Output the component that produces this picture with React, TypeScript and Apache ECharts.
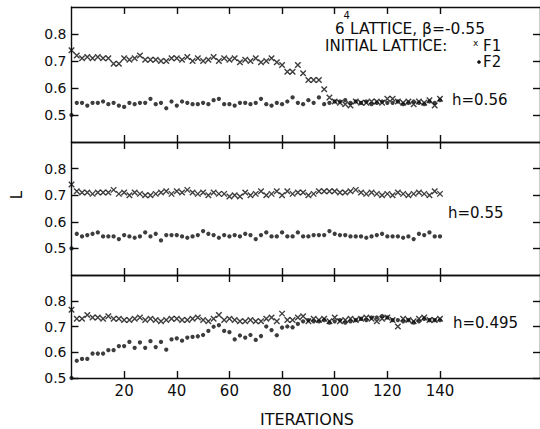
import React, { useEffect, useRef } from 'react';
import * as echarts from 'echarts';

const ITERATIONS = [
  0, 2, 4, 6, 8, 10, 12, 14, 16, 18, 20, 22, 24, 26, 28, 30, 32, 34, 36, 38,
  40, 42, 44, 46, 48, 50, 52, 54, 56, 58, 60, 62, 64, 66, 68, 70, 72, 74, 76, 78,
  80, 82, 84, 86, 88, 90, 92, 94, 96, 98, 100, 102, 104, 106, 108, 110, 112, 114, 116, 118,
  120, 122, 124, 126, 128, 130, 132, 134, 136, 138, 140,
];

// h = 0.56
const H056_F1 = [
  0.74, 0.72, 0.71, 0.715, 0.71, 0.715, 0.71, 0.71, 0.69, 0.69,
  0.71, 0.705, 0.71, 0.72, 0.705, 0.705, 0.705, 0.70, 0.70, 0.71,
  0.71, 0.705, 0.715, 0.70, 0.71, 0.70, 0.705, 0.715, 0.70, 0.71,
  0.705, 0.71, 0.695, 0.705, 0.70, 0.71, 0.695, 0.70, 0.71, 0.695,
  0.685, 0.66, 0.66, 0.685, 0.655, 0.63, 0.63, 0.63, 0.595, 0.565,
  0.55, 0.545, 0.54, 0.535, 0.55, 0.545, 0.545, 0.55, 0.55, 0.545,
  0.56, 0.56, 0.55, 0.545, 0.55, 0.54, 0.55, 0.545, 0.555, 0.535,
  0.56,
];
const H056_F2 = [
  0.50, 0.545, 0.545, 0.535, 0.545, 0.545, 0.55, 0.54, 0.545, 0.535,
  0.53, 0.545, 0.54, 0.545, 0.545, 0.56, 0.54, 0.545, 0.525, 0.55,
  0.535, 0.55, 0.545, 0.54, 0.54, 0.545, 0.54, 0.555, 0.56, 0.54,
  0.54, 0.535, 0.545, 0.545, 0.54, 0.545, 0.56, 0.54, 0.535, 0.545,
  0.54, 0.55, 0.565, 0.545, 0.54, 0.555, 0.545, 0.565, 0.54, 0.545,
  0.55, 0.55, 0.555, 0.545, 0.55, 0.545, 0.55, 0.54, 0.545, 0.55,
  0.545, 0.545, 0.55, 0.54, 0.545, 0.55, 0.545, 0.54, 0.55, 0.545,
  0.555,
];

// h = 0.55
const H055_F1 = [
  0.74, 0.715, 0.71, 0.71, 0.705, 0.71, 0.71, 0.71, 0.72, 0.705,
  0.71, 0.70, 0.71, 0.705, 0.70, 0.70, 0.705, 0.71, 0.715, 0.705,
  0.715, 0.71, 0.72, 0.71, 0.705, 0.71, 0.70, 0.71, 0.705, 0.705,
  0.695, 0.70, 0.695, 0.71, 0.70, 0.705, 0.715, 0.70, 0.705, 0.715,
  0.70, 0.715, 0.705, 0.71, 0.71, 0.70, 0.705, 0.715, 0.715, 0.715,
  0.715, 0.71, 0.71, 0.715, 0.72, 0.71, 0.705, 0.71, 0.705, 0.70,
  0.705, 0.70, 0.71, 0.705, 0.70, 0.705, 0.71, 0.705, 0.70, 0.715,
  0.705,
];
const H055_F2 = [
  0.50, 0.555, 0.545, 0.55, 0.555, 0.56, 0.545, 0.545, 0.545, 0.535,
  0.55, 0.545, 0.54, 0.545, 0.56, 0.545, 0.555, 0.53, 0.55, 0.55,
  0.55, 0.545, 0.54, 0.545, 0.55, 0.565, 0.555, 0.55, 0.54, 0.55,
  0.545, 0.55, 0.545, 0.555, 0.55, 0.535, 0.55, 0.56, 0.545, 0.545,
  0.56, 0.545, 0.545, 0.56, 0.545, 0.545, 0.55, 0.55, 0.55, 0.565,
  0.555, 0.55, 0.55, 0.545, 0.545, 0.545, 0.54, 0.545, 0.55, 0.555,
  0.545, 0.545, 0.545, 0.54, 0.545, 0.535, 0.555, 0.55, 0.56, 0.545,
  0.545,
];

// h = 0.495
const H0495_F1 = [
  0.765, 0.73, 0.73, 0.745, 0.735, 0.735, 0.73, 0.74, 0.73, 0.73,
  0.725, 0.725, 0.73, 0.735, 0.725, 0.73, 0.725, 0.72, 0.725, 0.73,
  0.73, 0.725, 0.725, 0.73, 0.735, 0.725, 0.72, 0.73, 0.745, 0.725,
  0.73, 0.725, 0.72, 0.72, 0.725, 0.72, 0.72, 0.73, 0.735, 0.72,
  0.75, 0.725, 0.725, 0.735, 0.74, 0.72, 0.73, 0.725, 0.73, 0.72,
  0.735, 0.72, 0.725, 0.73, 0.725, 0.73, 0.735, 0.73, 0.72, 0.73,
  0.735, 0.725, 0.70, 0.73, 0.725, 0.72, 0.73, 0.735, 0.725, 0.725,
  0.73,
];
const H0495_F2 = [
  0.50, 0.567, 0.574, 0.574, 0.595, 0.595, 0.595, 0.608, 0.608, 0.624,
  0.624, 0.64, 0.617, 0.638, 0.617, 0.643, 0.62, 0.64, 0.61, 0.65,
  0.654, 0.645, 0.657, 0.66, 0.662, 0.667, 0.683, 0.699, 0.705, 0.683,
  0.678, 0.65, 0.665, 0.657, 0.667, 0.648, 0.663, 0.70, 0.686, 0.666,
  0.696, 0.70, 0.697, 0.71, 0.72, 0.725, 0.72, 0.72, 0.725, 0.715,
  0.72, 0.725, 0.715, 0.72, 0.725, 0.73, 0.725, 0.735, 0.735, 0.74,
  0.735, 0.725, 0.725, 0.72, 0.725, 0.715, 0.72, 0.73, 0.725, 0.725,
  0.725,
];

const X_TICKS = [20, 40, 60, 80, 100, 120, 140];
const Y_TICKS = [0.5, 0.6, 0.7, 0.8];
const H_LABELS = ['h=0.56', 'h=0.55', 'h=0.495'];

const FONT = 'DejaVu Sans';
const INK = '#0d0d0d';
const X_PATH = 'path://M0,0L10,10M10,0L0,10';

export default function App() {
  const ref = useRef<HTMLDivElement>(null);

  useEffect(() => {
    document.body.style.margin = '0';
    if (!ref.current) return;
    const chart = echarts.init(ref.current, null, { renderer: 'svg' });

    const panels = [
      { top: 7, height: 135, min: 0.4, f1: H056_F1, f2: H056_F2 },
      { top: 142, height: 133, min: 0.4, f1: H055_F1, f2: H055_F2 },
      { top: 275, height: 103, min: 0.5, f1: H0495_F1, f2: H0495_F2 },
    ];
    const line = { color: INK, width: 1.4 };
    const grids: any[] = [];
    const xAxes: any[] = [];
    const yAxes: any[] = [];
    const series: any[] = [];

    panels.forEach((p, i) => {
      grids.push({ left: 71.5, top: p.top, width: 470.5, height: p.height });
      ['bottom', 'top'].forEach((pos) => {
        xAxes.push({
          type: 'value', gridIndex: i, position: pos, min: 0, max: 178,
          axisLine: { show: true, onZero: false, lineStyle: line },
          axisTick: { show: true, inside: true, length: 7, customValues: X_TICKS, lineStyle: line },
          axisLabel: {
            show: i === 2 && pos === 'bottom', customValues: X_TICKS, margin: 5,
            color: INK, fontSize: 15, fontFamily: FONT,
          },
          splitLine: { show: false },
        });
      });
      ['left', 'right'].forEach((pos) => {
        yAxes.push({
          type: 'value', gridIndex: i, position: pos, min: p.min, max: 0.9,
          axisLine: { show: true, onZero: false, lineStyle: line },
          axisTick: { show: true, inside: true, length: 7, customValues: Y_TICKS, lineStyle: line },
          axisLabel: {
            show: pos === 'left', customValues: Y_TICKS, margin: 5,
            color: INK, fontSize: 14, fontFamily: FONT,
            formatter: (v: number) => v.toFixed(1),
          },
          splitLine: { show: false },
        });
      });
      series.push({
        type: 'scatter', name: 'F1', xAxisIndex: 2 * i, yAxisIndex: 2 * i,
        data: ITERATIONS.map((x, k) => [x, p.f1[k]]),
        symbol: X_PATH, symbolSize: 5.5,
        itemStyle: { color: 'transparent', borderColor: INK, borderWidth: 1.4 },
      });
      series.push({
        type: 'scatter', name: 'F2', xAxisIndex: 2 * i, yAxisIndex: 2 * i,
        data: ITERATIONS.map((x, k) => [x, p.f2[k]]),
        symbol: 'circle', symbolSize: 4.3,
        itemStyle: { color: INK },
      });
    });

    const txt = (text: string, x: number, y: number, size: number) => ({
      type: 'text', x, y,
      style: {
        text, fill: INK, fontSize: size, fontFamily: FONT, lineHeight: size,
        align: 'left', verticalAlign: 'middle',
      },
    });

    const graphic: any[] = [
      txt('6', 335, 29, 15),
      txt('4', 343.5, 15.5, 10),
      txt('LATTICE, β=-0.55', 350, 29, 15.5),
      txt('INITIAL LATTICE:', 325, 45.5, 15),
      txt('x', 473, 43, 9),
      txt('F1', 483, 45.5, 15),
      { type: 'circle', shape: { cx: 479, cy: 62, r: 1.8 }, style: { fill: INK } },
      txt('F2', 483, 62, 15),
      txt(H_LABELS[0], 452, 100, 15),
      txt(H_LABELS[1], 448, 213, 15),
      txt(H_LABELS[2], 453, 323, 15),
      {
        type: 'text', x: 17, y: 195, rotation: Math.PI / 2,
        style: { text: 'L', fill: INK, fontSize: 15, fontFamily: FONT, align: 'center', verticalAlign: 'middle' },
      },
      {
        type: 'text', x: 307, y: 419,
        style: { text: 'ITERATIONS', fill: INK, fontSize: 16, fontFamily: FONT, align: 'center', verticalAlign: 'middle' },
      },
    ];

    chart.setOption({
      animation: false,
      backgroundColor: '#ffffff',
      grid: grids,
      xAxis: xAxes,
      yAxis: yAxes,
      series,
      graphic,
    });
    return () => chart.dispose();
  }, []);

  return <div ref={ref} style={{ width: 540, height: 429 }} />;
}
